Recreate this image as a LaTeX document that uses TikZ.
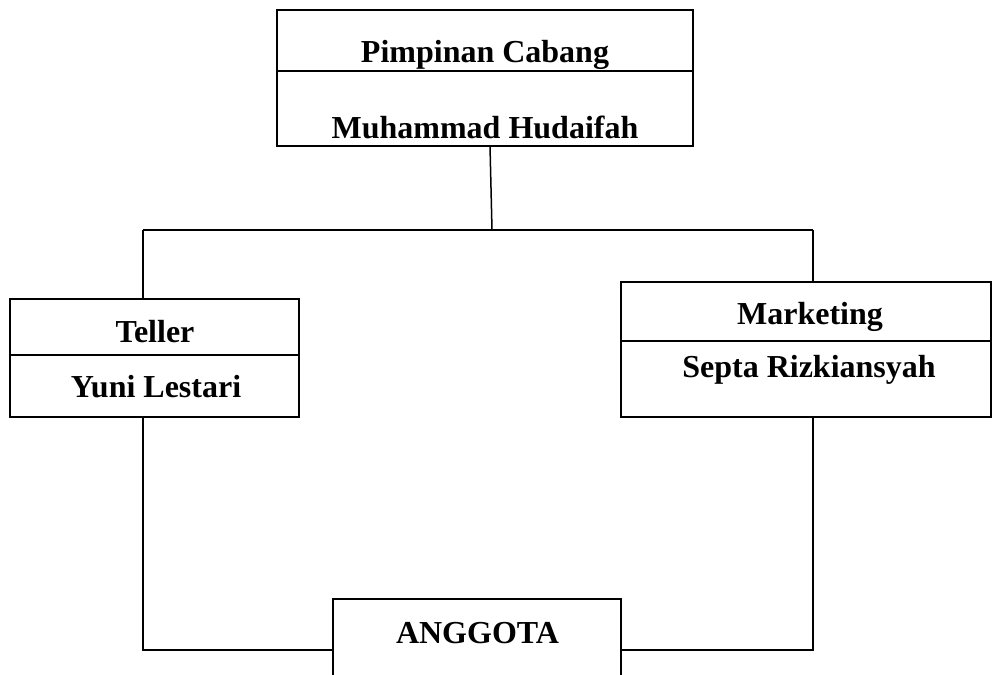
\documentclass[tikz,border=0pt]{standalone}
\usepackage{fontspec}
\setmainfont{Liberation Serif}
\begin{document}
\begin{tikzpicture}[x=1pt,y=-1pt,line width=1.5pt,
  box/.style={rectangle,draw,inner sep=0pt,outer sep=0pt},
  lbl/.style={font=\bfseries\fontsize{32}{38}\selectfont,anchor=base,inner sep=0pt}]
\useasboundingbox (0,0) rectangle (992,674);
% boxes
\node[box,minimum width=416pt,minimum height=136pt] (pc) at (485,78) {};
\node[box,minimum width=289pt,minimum height=118pt] (tl) at (154.5,358) {};
\node[box,minimum width=370pt,minimum height=135pt] (mk) at (806,349.5) {};
\node[rectangle,inner sep=0pt,outer sep=0pt,minimum width=288pt,minimum height=76pt] (ag) at (477,637) {};
\draw (ag.south west) -- (ag.north west) -- (ag.north east) -- (ag.south east);
% dividers
\draw (pc.west |- 0,71) -- (pc.east |- 0,71);
\draw (tl.west |- 0,355) -- (tl.east |- 0,355);
\draw (mk.west |- 0,341) -- (mk.east |- 0,341);
% labels
\node[lbl] (pc1) at (485,63) {Pimpinan Cabang};
\node[lbl] (pc2) at (485,138) {Muhammad Hudaifah};
\node[lbl] (tl1) at (155,342) {Teller};
\node[lbl] (tl2) at (156,397) {Yuni Lestari};
\node[lbl] (mk1) at (810,324) {Marketing};
\node[lbl] (mk2) at (809,377) {Septa Rizkiansyah};
\node[lbl] (ag1) at (477.5,643) {ANGGOTA};
% connectors
\coordinate (top) at (490,146);
\coordinate (mid) at (492,230);
\coordinate (hl) at (143,230);
\coordinate (hr) at (813,230);
\coordinate (bl) at (143,650);
\coordinate (br) at (813,650);
\draw (top) -- (mid);
\draw (hl) -- (hr);
\draw (hl) -- (hl |- tl.north);
\draw (hr) -- (hr |- mk.north);
\draw (hl |- tl.south) -- (bl) -- (bl -| ag.west);
\draw (hr |- mk.south) -- (br) -- (br -| ag.east);
\end{tikzpicture}
\end{document}
